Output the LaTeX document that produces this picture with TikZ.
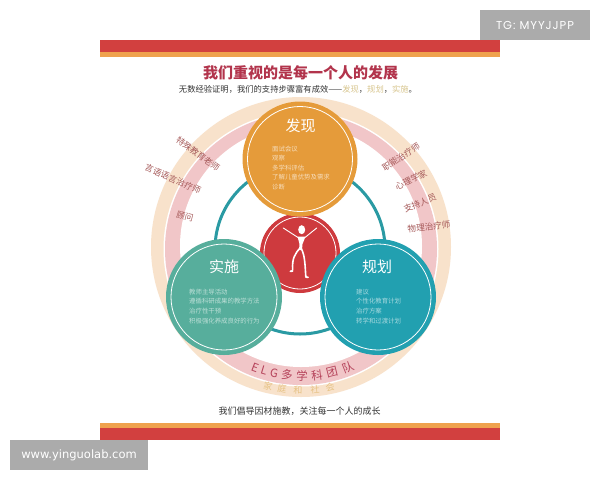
\documentclass[tikz,border=0pt]{standalone}
\usepackage{fontspec}
\setmainfont{Liberation Sans}
\newfontfamily\cjk{Noto Sans CJK SC}
\newfontfamily\wma{DejaVu Sans}
\newfontfamily\wmb[LetterSpace=8]{Poppins}
\definecolor{barred}{HTML}{D2403F}
\definecolor{barorange}{HTML}{EFA24E}
\definecolor{orangeC}{HTML}{E59B3A}
\definecolor{greenC}{HTML}{57AE9C}
\definecolor{blueC}{HTML}{22A0B0}
\definecolor{redC}{HTML}{CE3A3E}
\definecolor{tealring}{HTML}{2A9AA3}
\definecolor{pinkring}{HTML}{F1C6C8}
\definecolor{peachring}{HTML}{F8E2CB}
\definecolor{titlered}{HTML}{B2344C}
\definecolor{labelred}{HTML}{A65A5A}
\definecolor{elgred}{HTML}{B5425A}
\definecolor{gold}{HTML}{E6C284}
\definecolor{tan}{HTML}{D8C68F}
\definecolor{darktext}{HTML}{333333}
\definecolor{wmgray}{HTML}{ABABAB}
\newcommand{\fs}[1]{\cjk\fontsize{#1}{#1}\selectfont}
\tikzset{
  innerring/.style={draw=white,line width=0.8pt},
  heading/.style={text=white,font=\fs{15},inner sep=0pt},
  sidelabel/.style={text=labelred,font=\fs{8.6},inner sep=0pt},
  listitem/.style={text=#1,font=\fs{6.4},inner sep=0pt,anchor=west},
  arcchar/.style={inner sep=0pt},
  figstroke/.style={draw=white,line cap=round,line join=round}
}
\begin{document}
\begin{tikzpicture}[x=1pt,y=-1pt]
\useasboundingbox (0,0) rectangle (600,480);
\fill[white] (0,0) rectangle (600,480);
% bars
\fill[barred] (100,40) rectangle (500,52);
\fill[barorange] (100,52) rectangle (500,57);
\fill[barorange] (100,423) rectangle (500,428);
\fill[barred] (100,428) rectangle (500,440);
% rings
\fill[peachring] (301,247) circle[radius=150pt];
\fill[white] (301,249) circle[radius=137.5pt];
\fill[pinkring] (301,249) circle[radius=136pt];
\fill[white] (301,246) circle[radius=121pt];
\draw[tealring,line width=3pt] (300,249) circle[radius=85pt];
% circles
\fill[redC] (300,253) circle[radius=40pt];
\draw[innerring] (300,253) circle[radius=36pt];
\fill[orangeC] (300,159) circle[radius=57.5pt];
\draw[innerring] (300,159) circle[radius=52.5pt];
\fill[greenC] (224,297) circle[radius=58pt];
\draw[innerring] (224,297) circle[radius=53pt];
\fill[blueC] (378,297) circle[radius=58pt];
\draw[innerring] (378,297) circle[radius=53pt];
% figure
\fill[white] (301.7,229.7) ellipse[x radius=3.5pt,y radius=4.5pt];
\draw[figstroke,line width=0.9pt] (283.3,228) -- (298,237.5);
\draw[figstroke,line width=0.9pt] (316.7,228) -- (305,237.5);
\fill[white] (297.5,236.5) -- (305.5,236.5) -- (302.5,244) -- (302,250) -- (299,250) -- (299.5,244) -- cycle;
\draw[figstroke,line width=1.6pt] (300,248) .. controls (295,254) and (292,258) .. (292.6,270);
\draw[figstroke,line width=1.6pt] (301,248) .. controls (305,255) and (305,265) .. (305.8,276.5);
\draw[figstroke,line width=1.8pt] (290.4,271.3) -- (292.6,271);
\draw[figstroke,line width=1.8pt] (305.8,277) -- (308,277.3);
% title
\node[inner sep=0pt,text=titlered,font=\fs{15}\bfseries] (title) at (300.5,73) {我们重视的是每一个人的发展};
\node[inner sep=0pt,text=darktext,font=\fs{8.3}] (sub) at (298,89) {无数经验证明，我们的支持步骤富有成效——\textcolor{tan}{发现}，\textcolor{tan}{规划}，\textcolor{tan}{实施}。};
% headings
\node[heading] (h1) at (300.5,126) {发现};
\node[heading] (h2) at (224,267) {实施};
\node[heading] (h3) at (377,267) {规划};
% lists
\node[listitem=orangeC!35!white] (a1) at (272,149) {面试会议};
\node[listitem=orangeC!35!white] (a2) at (272,158) {观察};
\node[listitem=orangeC!35!white] (a3) at (272,168) {多学科评估};
\node[listitem=orangeC!35!white] (a4) at (272,177.5) {了解儿童优势及需求};
\node[listitem=orangeC!35!white] (a5) at (272,187) {诊断};
\node[listitem=greenC!40!white] (b1) at (189,292) {教师主导活动};
\node[listitem=greenC!40!white] (b2) at (189,301.5) {遵循科研成果的教学方法};
\node[listitem=greenC!40!white] (b3) at (189,311) {治疗性干预};
\node[listitem=greenC!40!white] (b4) at (189,321) {积极强化养成良好的行为};
\node[listitem=blueC!40!white] (c1) at (356,292) {建议};
\node[listitem=blueC!40!white] (c2) at (356,301.5) {个性化教育计划};
\node[listitem=blueC!40!white] (c3) at (356,311) {治疗方案};
\node[listitem=blueC!40!white] (c4) at (356,321) {转学和过渡计划};
% side labels
\node[sidelabel,rotate=-36.5] (l1) at (198,154) {特殊教育老师};
\node[sidelabel,rotate=-24] (l2) at (173,179) {言语语言治疗师};
\node[sidelabel,rotate=-14] (l3) at (185,216) {顾问};
\node[sidelabel,rotate=33] (r1) at (401,157) {职能治疗师};
\node[sidelabel,rotate=27] (r2) at (411,180) {心理学家};
\node[sidelabel,rotate=22] (r3) at (420,203) {支持人员};
\node[sidelabel,rotate=6] (r4) at (429,227) {物理治疗师};
% arc texts
\foreach \dx/\ch [count=\i] in {-46/E,-37/L,-27/G,-14/多,1/学,16/科,31/团,47/队}{
  \pgfmathsetmacro{\ang}{asin(\dx/129)}
  \pgfmathsetmacro{\px}{301+129*sin(\ang)}
  \pgfmathsetmacro{\py}{247+129*cos(\ang)}
  \node[arcchar,text=elgred,font=\fs{11.5},rotate=\ang] (elg\i) at (\px,\py) {\ch};
}
\foreach \dx/\ch [count=\i] in {-33/家,-19/庭,-3/和,14/社,29/会}{
  \pgfmathsetmacro{\ang}{asin(\dx/143)}
  \pgfmathsetmacro{\px}{301+143*sin(\ang)}
  \pgfmathsetmacro{\py}{247+143*cos(\ang)}
  \node[arcchar,text=gold,font=\fs{9},rotate=\ang] (fam\i) at (\px,\py) {\ch};
}
% bottom line
\node[inner sep=0pt,text=darktext,font=\fs{9}] (bot) at (299.5,411) {我们倡导因材施教，关注每一个人的成长};
% watermarks
\fill[wmgray] (480,10) rectangle (590,40);
\node[inner sep=0pt,text=white,font=\wmb\fontsize{11.5}{11.5}\selectfont] (tg) at (535,25) {TG: MYYJJPP};
\fill[wmgray] (10,440) rectangle (148,470);
\node[inner sep=0pt,text=white,font=\wma\fontsize{11.5}{11.5}\selectfont] (www) at (79,455) {www.yinguolab.com};
\end{tikzpicture}
\end{document}
